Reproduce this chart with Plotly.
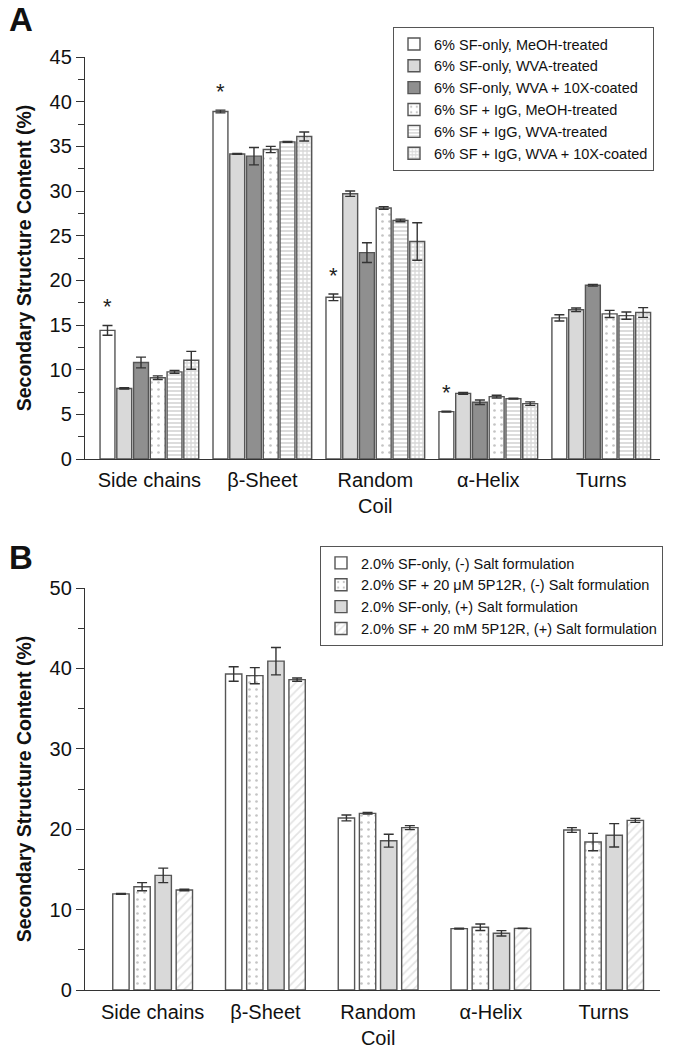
import plotly.graph_objects as go

categories = ["Side chains", "β-Sheet", "Random<br>Coil", "α-Helix", "Turns"]

# Panel A
a_names = ["6% SF-only, MeOH-treated", "6% SF-only, WVA-treated", "6% SF-only, WVA + 10X-coated",
           "6% SF + IgG, MeOH-treated", "6% SF + IgG, WVA-treated", "6% SF + IgG, WVA + 10X-coated"]
a_meoh = [14.4, 38.9, 18.1, 5.3, 15.8]
a_meoh_err = [0.55, 0.15, 0.37, 0.05, 0.35]
a_wva = [7.9, 34.15, 29.7, 7.35, 16.7]
a_wva_err = [0.08, 0.05, 0.3, 0.1, 0.2]
a_10x = [10.8, 33.9, 23.1, 6.35, 19.45]
a_10x_err = [0.6, 0.97, 1.1, 0.25, 0.1]
a_igg_meoh = [9.1, 34.65, 28.1, 6.98, 16.24]
a_igg_meoh_err = [0.2, 0.35, 0.15, 0.15, 0.4]
a_igg_wva = [9.75, 35.5, 26.7, 6.76, 16.05]
a_igg_wva_err = [0.15, 0.05, 0.15, 0.05, 0.4]
a_igg_10x = [11.05, 36.1, 24.35, 6.2, 16.4]
a_igg_10x_err = [1.0, 0.5, 2.1, 0.2, 0.55]
a_star_cats = ["Side chains", "β-Sheet", "Random<br>Coil", "α-Helix"]

# Panel B
b_names = ["2.0% SF-only, (-) Salt formulation", "2.0% SF + 20 μM 5P12R, (-) Salt formulation",
           "2.0% SF-only, (+) Salt formulation", "2.0% SF + 20 mM 5P12R, (+) Salt formulation"]
b_sf_minus = [11.95, 39.3, 21.4, 7.63, 19.9]
b_sf_minus_err = [0.05, 0.9, 0.37, 0.05, 0.3]
b_5p_minus = [12.85, 39.1, 21.97, 7.8, 18.4]
b_5p_minus_err = [0.5, 1.0, 0.1, 0.4, 1.08]
b_sf_plus = [14.26, 40.9, 18.57, 7.05, 19.24]
b_sf_plus_err = [0.9, 1.7, 0.8, 0.33, 1.45]
b_5p_plus = [12.44, 38.6, 20.2, 7.67, 21.1]
b_5p_plus_err = [0.1, 0.2, 0.25, 0.02, 0.25]

FONT = "Liberation Sans, Arial, sans-serif"
W, H = 673, 1050
PLOT_L, PLOT_R, PLOT_T, PLOT_B = 85, 660, 57, 990
ML, MT, MR, MB = PLOT_L, PLOT_T, W - PLOT_R, H - PLOT_B
PLOT_H = PLOT_B - PLOT_T
PLOT_W = PLOT_R - PLOT_L


def py2paper(py):
    return (PLOT_B - py) / PLOT_H


def px2paper(px):
    return (px - PLOT_L) / PLOT_W


outline = dict(color="#555555", width=1.4)
a_styles = [
    dict(color="white"),
    dict(color="#d9d9d9"),
    dict(color="#8f8f8f"),
    dict(color="white", pattern=dict(shape=".", fgcolor="#8a8a8a", size=7, solidity=0.12)),
    dict(color="white", pattern=dict(shape="-", fgcolor="#a8a8a8", size=4, solidity=0.4)),
    dict(color="white", pattern=dict(shape="+", fgcolor="#b0b0b0", size=4, solidity=0.55)),
]
b_styles = [
    dict(color="white"),
    dict(color="white", pattern=dict(shape=".", fgcolor="#8a8a8a", size=7, solidity=0.12)),
    dict(color="#d9d9d9"),
    dict(color="white", pattern=dict(shape="/", fgcolor="#c8c8c8", size=6, solidity=0.3)),
]

fig = go.Figure()

a_vals = [a_meoh, a_wva, a_10x, a_igg_meoh, a_igg_wva, a_igg_10x]
a_errs = [a_meoh_err, a_wva_err, a_10x_err, a_igg_meoh_err, a_igg_wva_err, a_igg_10x_err]
groupw_a = 0.89
slot_a = groupw_a / 6
barw_a = 0.132
for i, (nm, v, e, st) in enumerate(zip(a_names, a_vals, a_errs, a_styles)):
    fig.add_trace(go.Bar(
        x=categories, y=v, name=nm, xaxis="x", yaxis="y", legend="legend",
        width=barw_a, offset=-groupw_a / 2 + i * slot_a + (slot_a - barw_a) / 2,
        marker=dict(line=outline, **st),
        error_y=dict(type="data", array=e, color="#333333", thickness=1.4, width=5),
    ))

b_vals = [b_sf_minus, b_5p_minus, b_sf_plus, b_5p_plus]
b_errs = [b_sf_minus_err, b_5p_minus_err, b_sf_plus_err, b_5p_plus_err]
groupw_b = 0.75
slot_b = groupw_b / 4
barw_b = 0.145
for i, (nm, v, e, st) in enumerate(zip(b_names, b_vals, b_errs, b_styles)):
    fig.add_trace(go.Bar(
        x=categories, y=v, name=nm, xaxis="x2", yaxis="y2", legend="legend2",
        width=barw_b, offset=-groupw_b / 2 + i * slot_b + (slot_b - barw_b) / 2,
        marker=dict(line=outline, **st),
        error_y=dict(type="data", array=e, color="#333333", thickness=1.4, width=5),
    ))

# asterisks above first bar in panel A
xr_a = [-0.57, 4.52]
first_center_a = -groupw_a / 2 + slot_a / 2
unit_px_a = PLOT_W / (xr_a[1] - xr_a[0])
for c in a_star_cats:
    k = categories.index(c)
    fig.add_annotation(x=c, y=a_meoh[k] + a_meoh_err[k], xref="x", yref="y", text="*",
                       showarrow=False, yanchor="bottom", yshift=4,
                       xshift=first_center_a * unit_px_a,
                       font=dict(size=22, color="#222", family=FONT))

axis_common = dict(showline=True, linecolor="#333", linewidth=1.3, showgrid=False, zeroline=False,
                   automargin=False, tickfont=dict(size=20, color="#111", family=FONT))
ytitle = dict(text="<b>Secondary Structure Content (%)</b>", font=dict(size=19.5, color="#111", family=FONT),
              standoff=12)

fig.update_layout(
    width=W, height=H, barmode="overlay",
    margin=dict(l=ML, r=MR, t=MT, b=MB, autoexpand=False),
    paper_bgcolor="white", plot_bgcolor="white",
    font=dict(family=FONT, color="#111"),
    xaxis=dict(domain=[0, 1], anchor="y", type="category", range=xr_a, ticks="",
               ticklabelstandoff=3, **axis_common),
    yaxis=dict(domain=[py2paper(459), 1.0], anchor="x", range=[0, 45], dtick=5, ticks="outside",
               ticklen=8, tickcolor="#333", tickwidth=1.2,
               minor=dict(dtick=2.5, ticks="outside", ticklen=6, tickcolor="#333", tickwidth=1.2),
               title=ytitle, **axis_common),
    xaxis2=dict(domain=[0, 1], anchor="y2", type="category", range=[-0.6, 4.5], ticks="",
                ticklabelstandoff=4, **axis_common),
    yaxis2=dict(domain=[0, py2paper(588)], anchor="x2", range=[0, 50], dtick=10, ticks="outside",
                ticklen=8, tickcolor="#333", tickwidth=1.2,
                minor=dict(dtick=5, ticks="outside", ticklen=6, tickcolor="#333", tickwidth=1.2),
                title=ytitle, **axis_common),
    legend=dict(x=px2paper(393), y=py2paper(27), xanchor="left", yanchor="top",
                bordercolor="#555", borderwidth=1, bgcolor="white",
                font=dict(size=14.5, color="#111", family=FONT), tracegroupgap=0),
    legend2=dict(x=px2paper(320), y=py2paper(546), xanchor="left", yanchor="top",
                 bordercolor="#555", borderwidth=1, bgcolor="white",
                 font=dict(size=14.5, color="#111", family=FONT), tracegroupgap=0),
    showlegend=True,
)

fig.add_annotation(x=px2paper(8), y=py2paper(0), xref="paper", yref="paper", text="<b>A</b>",
                   showarrow=False, xanchor="left", yanchor="top", borderpad=0,
                   font=dict(size=33, color="#111", family=FONT))
fig.add_annotation(x=px2paper(8), y=py2paper(538), xref="paper", yref="paper", text="<b>B</b>",
                   showarrow=False, xanchor="left", yanchor="top", borderpad=0,
                   font=dict(size=33, color="#111", family=FONT))

# remove the browser's default body margin so the 673x1050 figure fills the window exactly
fig.write_html("out.html", config={"displayModeBar": False},
               post_script="document.body.style.margin='0';")
